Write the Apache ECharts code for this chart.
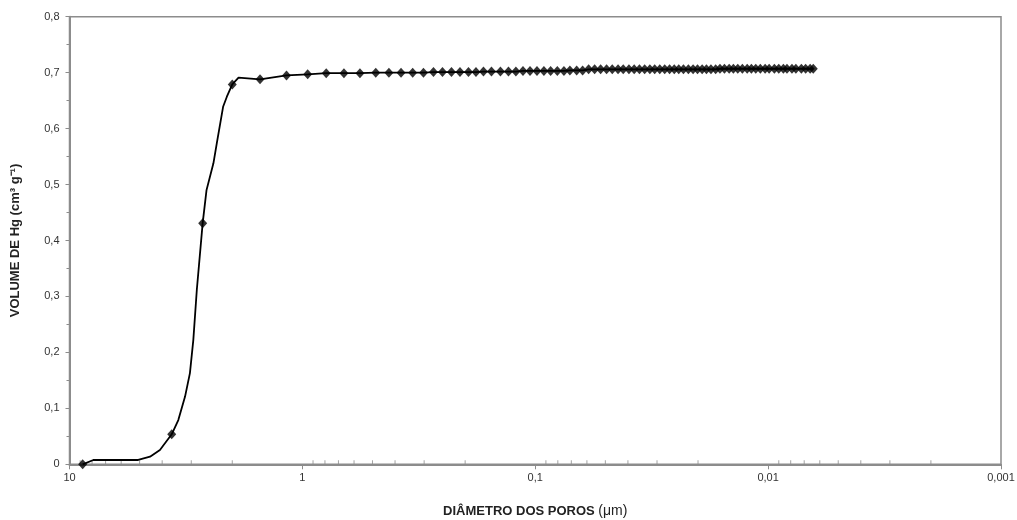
<!DOCTYPE html>
<html lang="pt">
<head>
    <meta charset="UTF-8">
    <title>Porosimetria de Hg</title>
    <script src="https://cdn.jsdelivr.net/npm/echarts@6/dist/echarts.min.js"></script>
    <style>
        html, body {margin: 0; padding: 0; background: #fff;}
        #chart {width: 1017px; height: 520px;}
    </style>
</head>
<body>
<div id="chart"></div>
<script>
    // pontos só da linha (sem marcador)
    let curveX = [7.90, 5.07, 4.51, 4.09, 3.41, 3.19, 3.04, 2.94, 2.84, 2.58, 2.41, 2.33, 2.19, 2.11, 1.88];
    let curveY = [0.0077, 0.0077, 0.0136, 0.0256, 0.079, 0.121, 0.163, 0.222, 0.3115, 0.490, 0.538, 0.574, 0.639, 0.657, 0.691];

    // pontos com marcador (losango)
    let markerX = [8.78, 3.64, 2.68, 2.00, 1.52, 1.17, 0.949, 0.790, 0.663, 0.566, 0.484, 0.425, 0.377, 0.336,
        0.302, 0.2736, 0.2503, 0.229, 0.2105, 0.1935, 0.1797, 0.1669, 0.1542, 0.1411, 0.1303, 0.1211, 0.1129,
        0.1053, 0.0983, 0.0918, 0.0859, 0.0804, 0.0753, 0.0710, 0.0664, 0.0626, 0.0590, 0.0556, 0.0524, 0.0494,
        0.0467, 0.0441, 0.0419, 0.0396, 0.0376, 0.0357, 0.0339, 0.0322, 0.0307, 0.0292, 0.0278, 0.0265, 0.0253,
        0.0242, 0.0231, 0.0220, 0.0210, 0.0201, 0.0192, 0.0184, 0.0176, 0.0168, 0.0161, 0.0154, 0.0147, 0.0141,
        0.0135, 0.0129, 0.0123, 0.0118, 0.0113, 0.0108, 0.0103, 0.0099, 0.0094, 0.0090, 0.0086, 0.0083, 0.0079,
        0.0076, 0.0072, 0.0069, 0.0066, 0.0064];
    let markerY = [0, 0.0536, 0.431, 0.679, 0.688, 0.695, 0.697, 0.699, 0.699, 0.699, 0.700, 0.700, 0.700, 0.700,
        0.700, 0.701, 0.701, 0.701, 0.701, 0.701, 0.701, 0.702, 0.702, 0.702, 0.702, 0.702, 0.703,
        0.703, 0.703, 0.703, 0.703, 0.703, 0.703, 0.704, 0.704, 0.704, 0.706, 0.706, 0.706, 0.706,
        0.706, 0.706, 0.706, 0.706, 0.706, 0.706, 0.706, 0.706, 0.706, 0.706, 0.706, 0.706, 0.706,
        0.706, 0.706, 0.706, 0.706, 0.706, 0.706, 0.706, 0.706, 0.706, 0.707, 0.707, 0.707, 0.707,
        0.707, 0.707, 0.707, 0.707, 0.707, 0.707, 0.707, 0.707, 0.707, 0.707, 0.707, 0.707, 0.707,
        0.707, 0.707, 0.707, 0.707, 0.707];

    // marcas secundárias do eixo log (2..9 de cada década)
    let minorTickValues = [9, 8, 7, 6, 5, 4, 3, 2,
        0.9, 0.8, 0.7, 0.6, 0.5, 0.4, 0.3, 0.2,
        0.09, 0.08, 0.07, 0.06, 0.05, 0.04, 0.03, 0.02,
        0.009, 0.008, 0.007, 0.006, 0.005, 0.004, 0.003, 0.002];

    let linePoints = [];
    curveX.forEach(function (x, i) { linePoints.push([x, curveY[i]]); });
    markerX.forEach(function (x, i) { linePoints.push([x, markerY[i]]); });
    linePoints.sort(function (a, b) { return b[0] - a[0]; });

    let markerPoints = markerX.map(function (x, i) { return [x, markerY[i]]; });
    let minorPoints  = minorTickValues.map(function (v) { return [v, 0]; });

    let fontFamily = '"Liberation Sans", Arial, sans-serif';

    let chart = echarts.init(document.getElementById('chart'));
    chart.setOption({
        animation: false,
        textStyle: {fontFamily: fontFamily},
        grid     : {
            left: 69.5, right: 16, top: 16.7, bottom: 55.7,
            outerBoundsMode: 'none',
            containLabel   : false,
            show: true, borderColor: '#8c8c8c', borderWidth: 1.5
        },
        xAxis    : {
            type         : 'log',
            logBase      : 10,
            min          : 0.001,
            max          : 10,
            inverse      : true,
            name         : '{b|DIÂMETRO DOS POROS }{n|(μm)}',
            nameLocation : 'middle',
            nameGap      : 40,
            nameTextStyle: {
                rich: {
                    b: {fontFamily: fontFamily, fontSize: 13, fontWeight: 'bold', color: '#222'},
                    n: {fontFamily: fontFamily, fontSize: 14, color: '#222'}
                }
            },
            axisLine     : {lineStyle: {color: '#8c8c8c', width: 2}},
            axisTick     : {length: 5, lineStyle: {color: '#8c8c8c'}},
            axisLabel    : {
                color    : '#333',
                fontSize : 11,
                margin   : 8,
                formatter: function (v) {
                    return String(+v.toPrecision(3)).replace('.', ',');
                }
            },
            splitLine    : {show: false}
        },
        yAxis    : {
            type         : 'value',
            min          : 0,
            max          : 0.8,
            interval     : 0.1,
            name         : 'VOLUME DE Hg (cm³ g⁻¹)',
            nameLocation : 'middle',
            nameGap      : 48,
            nameTextStyle: {fontSize: 13, fontWeight: 'bold', color: '#222'},
            axisLine     : {show: true, lineStyle: {color: '#8c8c8c', width: 2}},
            axisTick     : {show: true, length: 4, lineStyle: {color: '#8c8c8c'}},
            minorTick    : {show: true, splitNumber: 2, length: 3, lineStyle: {color: '#8c8c8c'}},
            axisLabel    : {
                color    : '#333',
                fontSize : 11,
                margin   : 10,
                formatter: function (v) {
                    return v === 0 ? '0' : v.toFixed(1).replace('.', ',');
                }
            },
            splitLine    : {show: false}
        },
        series   : [
            {
                type        : 'scatter',
                data        : minorPoints,
                symbol      : 'rect',
                symbolSize  : [1, 4],
                symbolOffset: [0, -2],
                itemStyle   : {color: '#8c8c8c'},
                silent      : true,
                z           : 1
            },
            {
                type      : 'line',
                data      : linePoints,
                showSymbol: false,
                lineStyle : {color: '#000', width: 1.8},
                z         : 2
            },
            {
                type      : 'scatter',
                data      : markerPoints,
                symbol    : 'diamond',
                symbolSize: [9, 10],
                itemStyle : {color: '#000'},
                z         : 3
            }
        ]
    });
</script>
</body>
</html>
